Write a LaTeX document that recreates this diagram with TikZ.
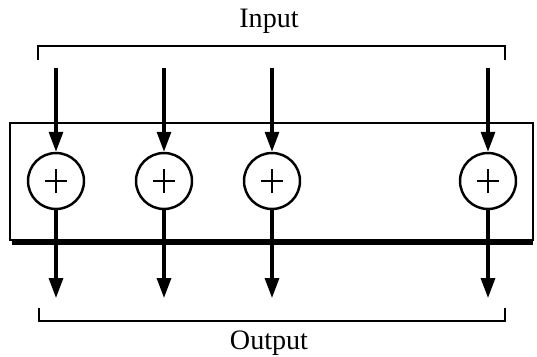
\documentclass[tikz,border=0pt]{standalone}
\usepackage{fontspec}
\setmainfont{Liberation Serif}
\usetikzlibrary{arrows.meta}

\begin{document}
\begin{tikzpicture}[
  x=0.02cm, y=-0.02cm,
  font=\fontsize{16}{18}\selectfont,
  adder/.style={draw, circle, line width=1.4pt, minimum size=1.12cm, inner sep=0pt,
    path picture={
      \draw[line width=1.4pt] ([xshift=-0.22cm]path picture bounding box.center) -- ([xshift=0.22cm]path picture bounding box.center);
      \draw[line width=1.4pt] ([yshift=-0.24cm]path picture bounding box.center) -- ([yshift=0.24cm]path picture bounding box.center);
    }},
  sig/.style={line width=1.8pt, -{Triangle[length=0.4cm, width=0.28cm]}},
  brk/.style={line width=0.8pt},
]
\useasboundingbox (0,0) rectangle (537,356);

% --- the plate holding the adders, with its heavy bottom edge
\draw[line width=0.7pt] (10,123) rectangle (533,240);
\draw[line width=3pt] (12,242.5) -- (533,242.5);

% --- adders
\node[adder] (a1) at (56,181) {};
\node[adder] (a2) at (164,181) {};
\node[adder] (a3) at (272,181) {};
\node[adder] (a4) at (488,181) {};

% --- input side
\node (in) at (269,21) {Input};
\draw[brk] (38,60) -- (38,46) -- (505,46) -- (505,60);
\coordinate (i1) at (56,68);
\coordinate (i2) at (164,68);
\coordinate (i3) at (272,68);
\coordinate (i4) at (488,68);
\draw[sig] (i1) -- (a1);
\draw[sig] (i2) -- (a2);
\draw[sig] (i3) -- (a3);
\draw[sig] (i4) -- (a4);

% --- output side
\coordinate (o1) at (56,298);
\coordinate (o2) at (164,298);
\coordinate (o3) at (272,298);
\coordinate (o4) at (488,298);
\draw[sig] (a1) -- (o1);
\draw[sig] (a2) -- (o2);
\draw[sig] (a3) -- (o3);
\draw[sig] (a4) -- (o4);
\draw[brk] (39,308) -- (39,321) -- (505,321) -- (505,308);
\node (out) at (269,343) {Output};

\end{tikzpicture}
\end{document}
